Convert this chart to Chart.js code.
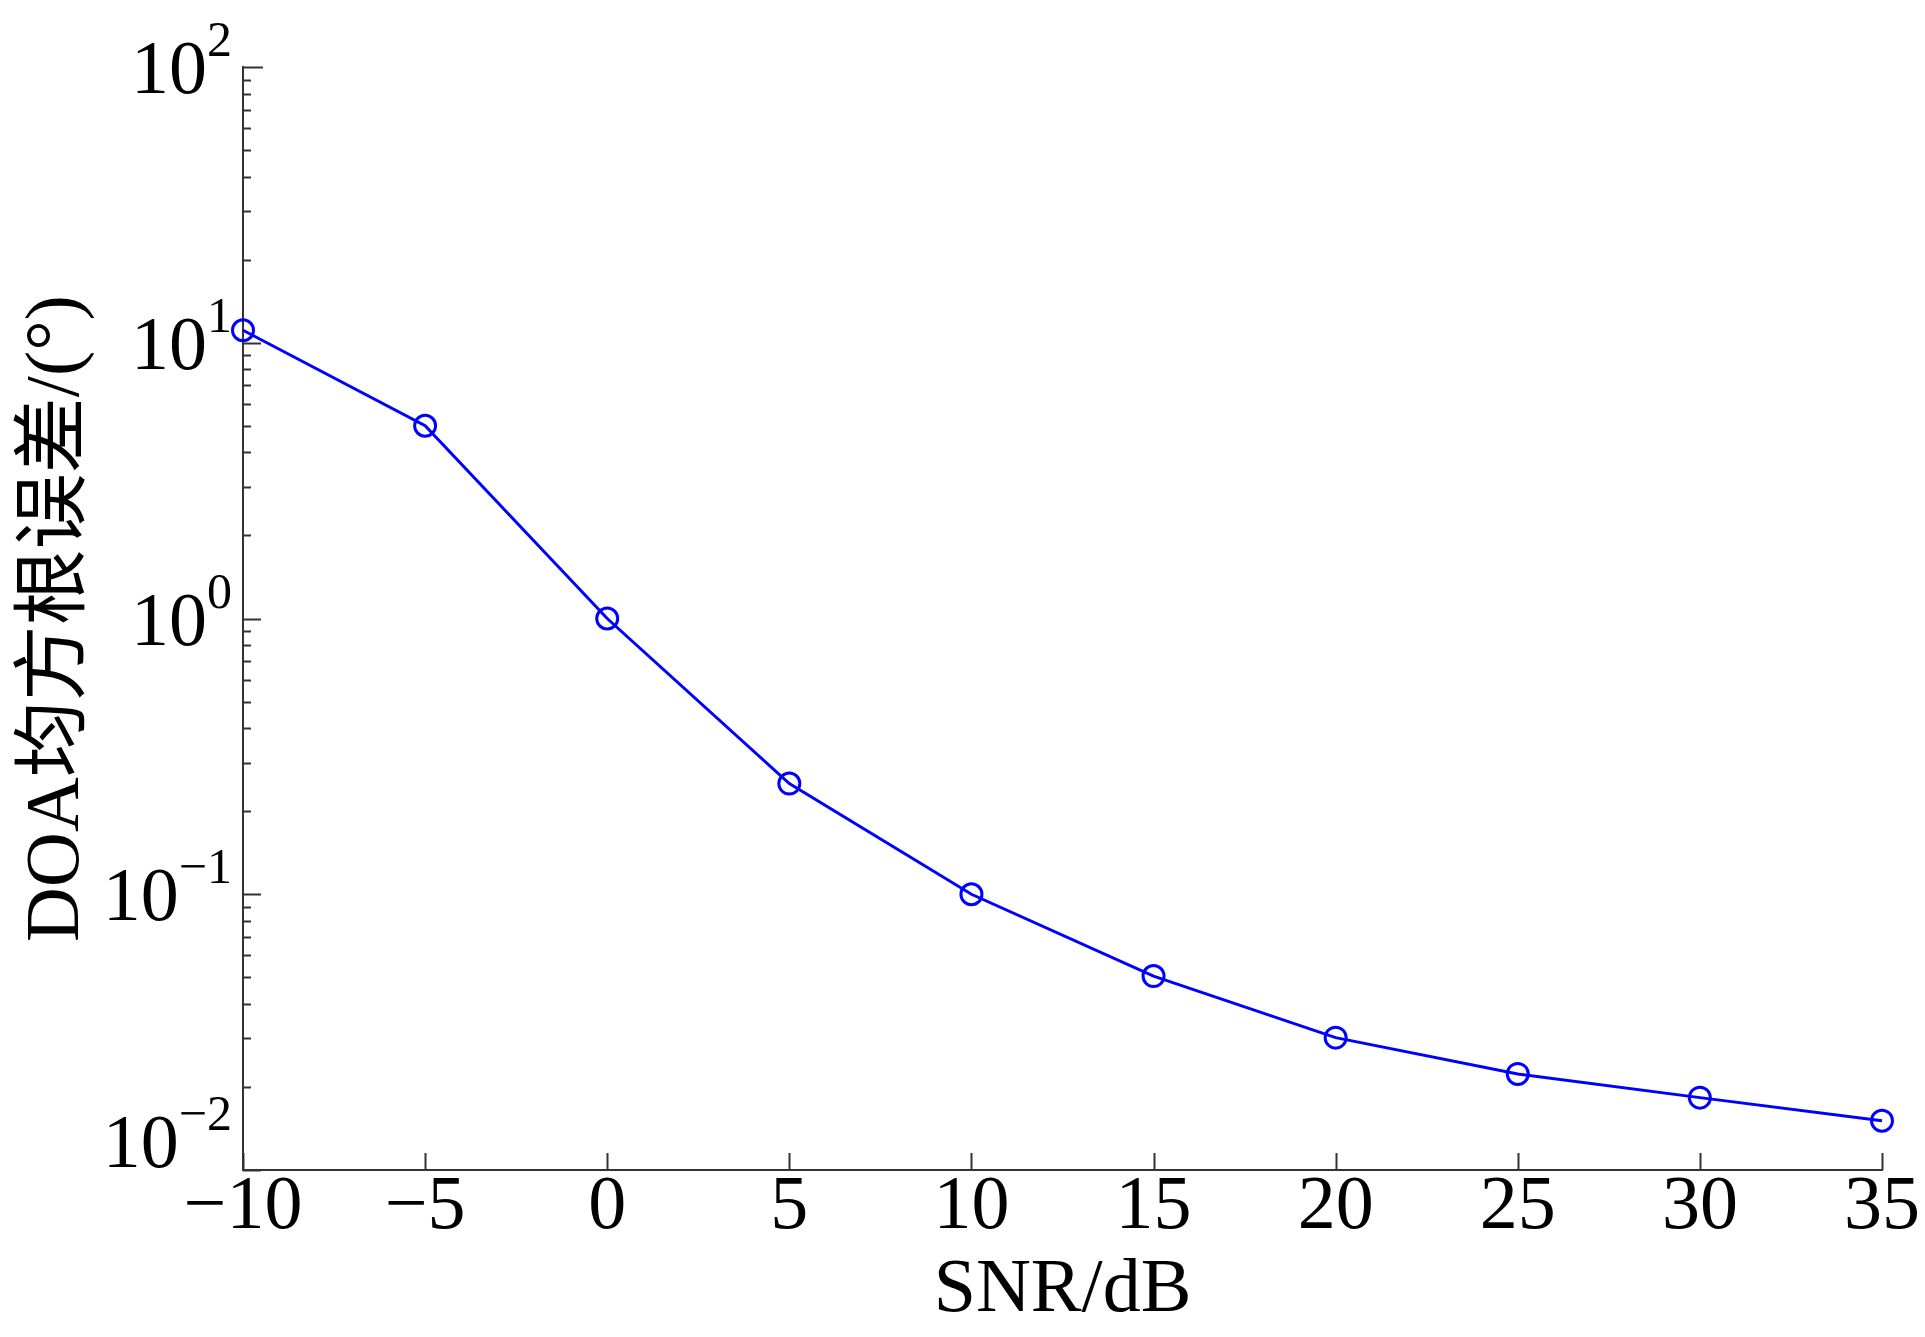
<!DOCTYPE html>
<html>
<head>
<meta charset="utf-8">
<script src="https://cdn.jsdelivr.net/npm/chart.js@4"></script>
<style>
  html, body { margin: 0; padding: 0; background: #fff; }
  #wrap { width: 1925px; height: 1337px; }
</style>
</head>
<body>
<div id="wrap"><canvas id="line" width="1925" height="1337"></canvas></div>
<script>
// SNR (dB) and DOA RMSE (deg)
const snr = [-10, -5, 0, 5, 10, 15, 20, 25, 30, 35];
const rmse = [11.1, 5.0, 1.0, 0.252, 0.1, 0.0505, 0.0302, 0.0223, 0.0183, 0.0151];
const yDecades = [-2, -1, 0, 1, 2];

const axisColor = "#333";
const serif = "'Liberation Serif', 'Times New Roman', serif";

// inward ticks + 10^n labels, drawn from the chart's own scales
const axisDecor = {
  id: "axisDecor",
  afterDraw(chart) {
    const ctx = chart.ctx;
    const xs = chart.scales.x;
    const ys = chart.scales.y;
    const area = chart.chartArea;
    ctx.save();
    ctx.strokeStyle = axisColor;
    ctx.lineWidth = 2;

    // x ticks point up
    xs.ticks.forEach((t) => {
      const px = Math.round(xs.getPixelForValue(t.value)) + 0.5;
      ctx.beginPath();
      ctx.moveTo(px, area.bottom);
      ctx.lineTo(px, area.bottom - 17);
      ctx.stroke();
    });

    // y ticks point right, minor ones shorter
    for (let d = yDecades[0]; d < yDecades[yDecades.length - 1]; d++) {
      for (let m = 1; m <= 9; m++) {
        const v = m * Math.pow(10, d);
        const py = Math.round(ys.getPixelForValue(v)) + 0.5;
        ctx.beginPath();
        ctx.moveTo(area.left, py);
        ctx.lineTo(area.left + (m === 1 ? 18 : 8), py);
        ctx.stroke();
      }
    }
    const topY = Math.round(ys.getPixelForValue(Math.pow(10, yDecades[yDecades.length - 1]))) + 0.5;
    ctx.beginPath();
    ctx.moveTo(area.left, topY);
    ctx.lineTo(area.left + 20, topY);
    ctx.stroke();

    // y labels 10^n
    ctx.fillStyle = "#000";
    ctx.textAlign = "right";
    ctx.textBaseline = "alphabetic";
    yDecades.forEach((d, i) => {
      const py = ys.getPixelForValue(Math.pow(10, d));
      const base = i === 0 ? py - 3 : py + 26;
      const exp = d < 0 ? "\u2212" + Math.abs(d) : String(d);
      const right = area.left - 11;
      ctx.font = "50px " + serif;
      const ew = ctx.measureText(exp).width;
      ctx.fillText(exp, right, base - 37);
      ctx.font = "76px " + serif;
      ctx.fillText("10", right - ew, base);
    });
    ctx.restore();
  },
};

const ctx = document.getElementById("line").getContext("2d");
const myChart = new Chart(ctx, {
  type: "line",
  data: {
    datasets: [
      {
        data: snr.map((s, i) => ({ x: s, y: rmse[i] })),
        borderColor: "#0000ff",
        borderWidth: 3,
        backgroundColor: "rgba(0,0,0,0)",
        pointStyle: "circle",
        pointRadius: 10.5,
        pointBorderWidth: 3,
        pointBorderColor: "#0000ff",
        pointBackgroundColor: "rgba(0,0,0,0)",
        tension: 0,
        clip: false,
      },
    ],
  },
  options: {
    responsive: false,
    animation: false,
    layout: { padding: { top: 67, right: 43, left: 0, bottom: 0 } },
    plugins: { legend: { display: false }, tooltip: { enabled: false } },
    scales: {
      x: {
        type: "linear",
        min: -10,
        max: 35,
        grid: { display: false, drawTicks: false },
        border: { display: true, color: axisColor, width: 2 },
        ticks: {
          stepSize: 5,
          padding: -8,
          color: "#000",
          font: { family: serif, size: 76 },
          maxRotation: 0,
          callback: (v) => (v < 0 ? "\u2212" + Math.abs(v) : String(v)),
        },
        title: {
          display: true,
          text: "SNR/dB",
          color: "#000",
          font: { family: serif, size: 76 },
          padding: { top: 0, bottom: 0 },
        },
        afterFit(scale) {
          scale.height = 167;
        },
      },
      y: {
        type: "logarithmic",
        min: 0.01,
        max: 100,
        grid: { display: false, drawTicks: false },
        border: { display: true, color: axisColor, width: 2 },
        ticks: { callback: () => "" },
        title: {
          display: true,
          text: "DOA均方根误差/(°)",
          color: "#000",
          font: { family: "'Liberation Serif', 'Noto Sans CJK SC', serif", size: 76 },
          padding: { top: 12, bottom: 0 },
        },
        afterFit(scale) {
          scale.width = 243;
        },
      },
    },
  },
  plugins: [axisDecor],
});
</script>
</body>
</html>
